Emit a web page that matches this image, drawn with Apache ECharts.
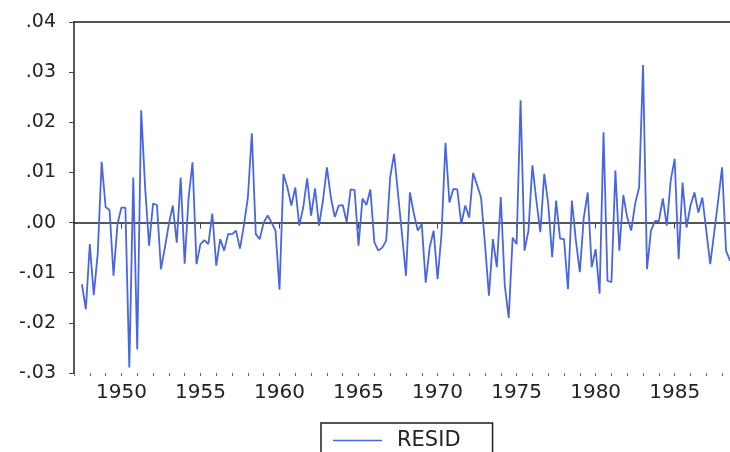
<!DOCTYPE html>
<html>
<head>
<meta charset="utf-8">
<script src="https://cdn.jsdelivr.net/npm/echarts@6/dist/echarts.min.js"></script>
<style>
html, body { margin: 0; padding: 0; background: #fff; }
#main { width: 730px; height: 452px; }
</style>
</head>
<body>
<div id="main"></div>
<script>
// quarterly residuals, first category is 1947Q1
var startYear = 1947;
var labelYears = [1950, 1955, 1960, 1965, 1970, 1975, 1980, 1985];
var yTicks = [-0.03, -0.02, -0.01, 0.00, 0.01, 0.02, 0.03, 0.04];

var resid1940s = [null, null, -0.0123, -0.0173, -0.0043, -0.0145, -0.0062, 0.0121, 0.0031, 0.0025, -0.0106, -0.0003];
var resid1950s = [0.0030, 0.0030, -0.0289, 0.0090, -0.0253, 0.0224, 0.0070, -0.0046,
  0.0038, 0.0035, -0.0093, -0.0050, -0.0003, 0.0034, -0.0040, 0.0090, -0.0082, 0.0050,
  0.0120, -0.0083, -0.0043, -0.0035, -0.0043, 0.0018, -0.0086, -0.0033, -0.0056, -0.0023,
  -0.0023, -0.0016, -0.0052, -0.0005, 0.0050, 0.0178, -0.0023, -0.0033, 0.0000, 0.0014,
  0.0000, -0.0016];
var resid1960s = [-0.0134, 0.0097, 0.0070, 0.0034, 0.0070, -0.0006, 0.0030, 0.0088,
  0.0014, 0.0068, -0.0006, 0.0044, 0.0110, 0.0050, 0.0011, 0.0034, 0.0035, 0.0001,
  0.0066, 0.0065, -0.0046, 0.0048, 0.0035, 0.0066, -0.0039, -0.0056, -0.0050, -0.0036,
  0.0090, 0.0137, 0.0057, -0.0023, -0.0106, 0.0060, 0.0018, -0.0016, -0.0003, -0.0120,
  -0.0050, -0.0016];
var resid1970s = [-0.0113, -0.0023, 0.0159, 0.0040, 0.0067, 0.0066, -0.0003, 0.0034,
  0.0010, 0.0099, 0.0075, 0.0050, -0.0043, -0.0146, -0.0033, -0.0089, 0.0051, -0.0125,
  -0.0190, -0.0030, -0.0043, 0.0244, -0.0056, -0.0016, 0.0114, 0.0044, -0.0019, 0.0097,
  0.0038, -0.0069, 0.0044, -0.0032, -0.0033, -0.0133, 0.0044, -0.0036, -0.0099, 0.0010,
  0.0060, -0.0089];
var resid1980s = [-0.0053, -0.0142, 0.0180, -0.0116, -0.0119, 0.0104, -0.0056, 0.0055,
  0.0010, -0.0016, 0.0038, 0.0070, 0.0314, -0.0093, -0.0016, 0.0003, 0.0003, 0.0048,
  -0.0006, 0.0084, 0.0127, -0.0073, 0.0080, -0.0010, 0.0034, 0.0060, 0.0020, 0.0050,
  -0.0016, -0.0083, -0.0020, 0.0044, 0.0110, -0.0056, -0.0076];

var resid = [].concat(resid1940s, resid1950s, resid1960s, resid1970s, resid1980s);

var quarters = [];
for (var i = 0; i < resid.length; i++) {
  quarters.push((startYear + Math.floor(i / 4)) + 'Q' + (i % 4 + 1));
}

function isYearStart(v) { return v.slice(-2) === 'Q1'; }
function isLabelYear(v) { return isYearStart(v) && labelYears.indexOf(+v.slice(0, 4)) >= 0; }

var axisColor = '#1e1e1e';
var lineColor = '#4866e3';
var font = 'DejaVu Sans';

var myChart = echarts.init(document.getElementById('main'));
var option = {
  backgroundColor: '#fff',
  animation: false,
  grid: { left: 74, right: 0, top: 22, bottom: 79, outerBoundsMode: 'none' },
  legend: {
    left: 321, top: 423,
    data: ['RESID'],
    icon: 'rect',
    itemWidth: 49, itemHeight: 1.5,
    borderColor: axisColor, borderWidth: 1.5,
    padding: [7, 32, 8, 12],
    textStyle: { fontFamily: font, fontSize: 21, color: '#222', padding: [0, 0, 0, 10] }
  },
  xAxis: [{
    type: 'category',
    data: quarters,
    boundaryGap: false,
    axisLine: { lineStyle: { color: axisColor, width: 1.5 } },
    axisTick: { interval: function (i, v) { return isLabelYear(v); }, length: 6, lineStyle: { color: '#444' } },
    axisLabel: {
      interval: function (i, v) { return isLabelYear(v); },
      formatter: function (v) { return v.slice(0, 4); },
      margin: 10, fontFamily: font, fontSize: 20, color: '#222'
    },
    splitLine: { show: false }
  }, {
    type: 'category',
    data: quarters,
    boundaryGap: false,
    position: 'bottom',
    axisLine: { show: false },
    axisTick: { interval: function (i, v) { return isYearStart(v); }, length: 3, lineStyle: { color: '#666' } },
    axisLabel: { show: false },
    splitLine: { show: false }
  }, {
    type: 'category',
    data: quarters,
    boundaryGap: false,
    position: 'top',
    axisLine: { lineStyle: { color: axisColor, width: 1.5 } },
    axisTick: { show: false },
    axisLabel: { show: false },
    splitLine: { show: false }
  }],
  yAxis: {
    type: 'value',
    min: yTicks[0], max: yTicks[yTicks.length - 1], interval: 0.01,
    axisLine: { show: true, lineStyle: { color: axisColor, width: 1.5 } },
    axisTick: { show: true, length: 5, lineStyle: { color: '#444' } },
    axisLabel: {
      margin: 18, fontFamily: font, fontSize: 19, color: '#222',
      formatter: function (v) {
        var n = Math.round(v * 100);
        return (n < 0 ? '-' : '') + (Math.abs(n) / 100).toFixed(2).replace(/^0/, '');
      }
    },
    splitLine: { show: false }
  },
  series: [{
    name: 'RESID',
    type: 'line',
    data: resid,
    showSymbol: false,
    symbol: 'none',
    lineStyle: { color: lineColor, width: 1.8 },
    itemStyle: { color: lineColor }
  }]
};
myChart.setOption(option);
</script>
</body>
</html>
